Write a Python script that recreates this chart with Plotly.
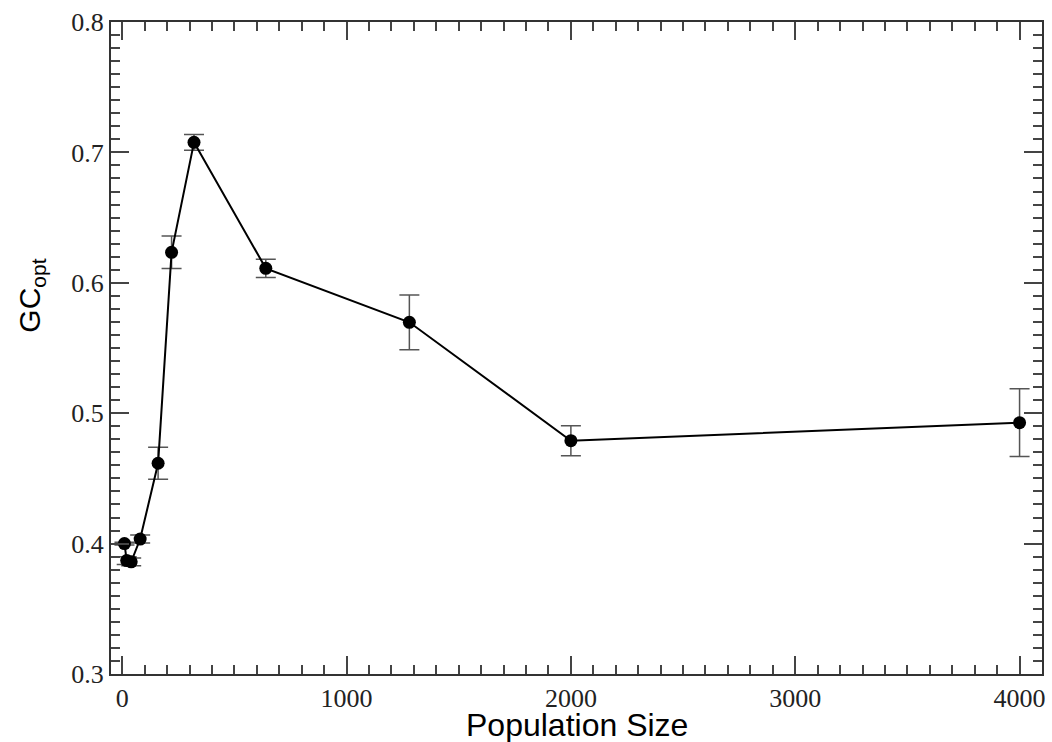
import plotly.graph_objects as go

pop_size = [10, 20, 40, 80, 160, 220, 320, 640, 1280, 2000, 4000]
gc_opt = [0.400, 0.387, 0.386, 0.4035, 0.4616, 0.6234, 0.7077, 0.6111, 0.5697, 0.4789, 0.4927]
gc_err = [0.001, 0.003, 0.003, 0.003, 0.0123, 0.0125, 0.006, 0.007, 0.021, 0.0115, 0.026]

x_ticks = [0, 1000, 2000, 3000, 4000]
y_ticks = [0.3, 0.4, 0.5, 0.6, 0.7, 0.8]

fig = go.Figure()
fig.add_trace(go.Scatter(
    x=pop_size, y=gc_opt, mode="lines+markers",
    line=dict(color="black", width=2),
    marker=dict(color="black", size=13),
    error_y=dict(type="data", array=gc_err, visible=True, color="#555555", thickness=1.5, width=10),
    showlegend=False,
))

axis_common = dict(
    showline=True, linecolor="#333333", linewidth=2, mirror="allticks",
    ticks="inside", ticklen=18, tickwidth=2, tickcolor="#444444",
    showgrid=False, zeroline=False, automargin=False,
    ticklabeloverflow="allow",
    tickfont=dict(family="Liberation Serif", size=26, color="#222222"),
)

fig.update_xaxes(
    range=[-50, 4100], tickvals=x_ticks, ticktext=[str(v) for v in x_ticks],
    minor=dict(ticks="inside", dtick=100, tick0=0, ticklen=9, tickwidth=2, tickcolor="#444444", showgrid=False),
    **axis_common,
)
fig.update_yaxes(
    range=[0.3, 0.8], tickvals=y_ticks, ticktext=[f"{v:.1f}" for v in y_ticks],
    minor=dict(ticks="inside", dtick=0.01, tick0=0.3, ticklen=9, tickwidth=2, tickcolor="#444444", showgrid=False),
    **axis_common,
)

fig.add_annotation(
    text="Population Size", xref="paper", yref="paper", x=0.5, y=-0.047,
    xanchor="center", yanchor="top", showarrow=False,
    font=dict(family="Liberation Sans", size=32, color="black"),
)
fig.add_annotation(
    text="GC<sub>opt</sub>", xref="paper", yref="paper", x=-0.085, y=0.58,
    xanchor="center", yanchor="middle", textangle=-90, showarrow=False,
    font=dict(family="Liberation Sans", size=30, color="black"),
)

fig.update_layout(
    width=1052, height=742,
    margin=dict(l=111, r=10, t=22, b=68),
    plot_bgcolor="white", paper_bgcolor="white",
)

fig.write_html(
    "out.html",
    config={"displayModeBar": False},
    post_script="document.body.style.margin='0px';document.body.style.overflow='hidden';",
)
